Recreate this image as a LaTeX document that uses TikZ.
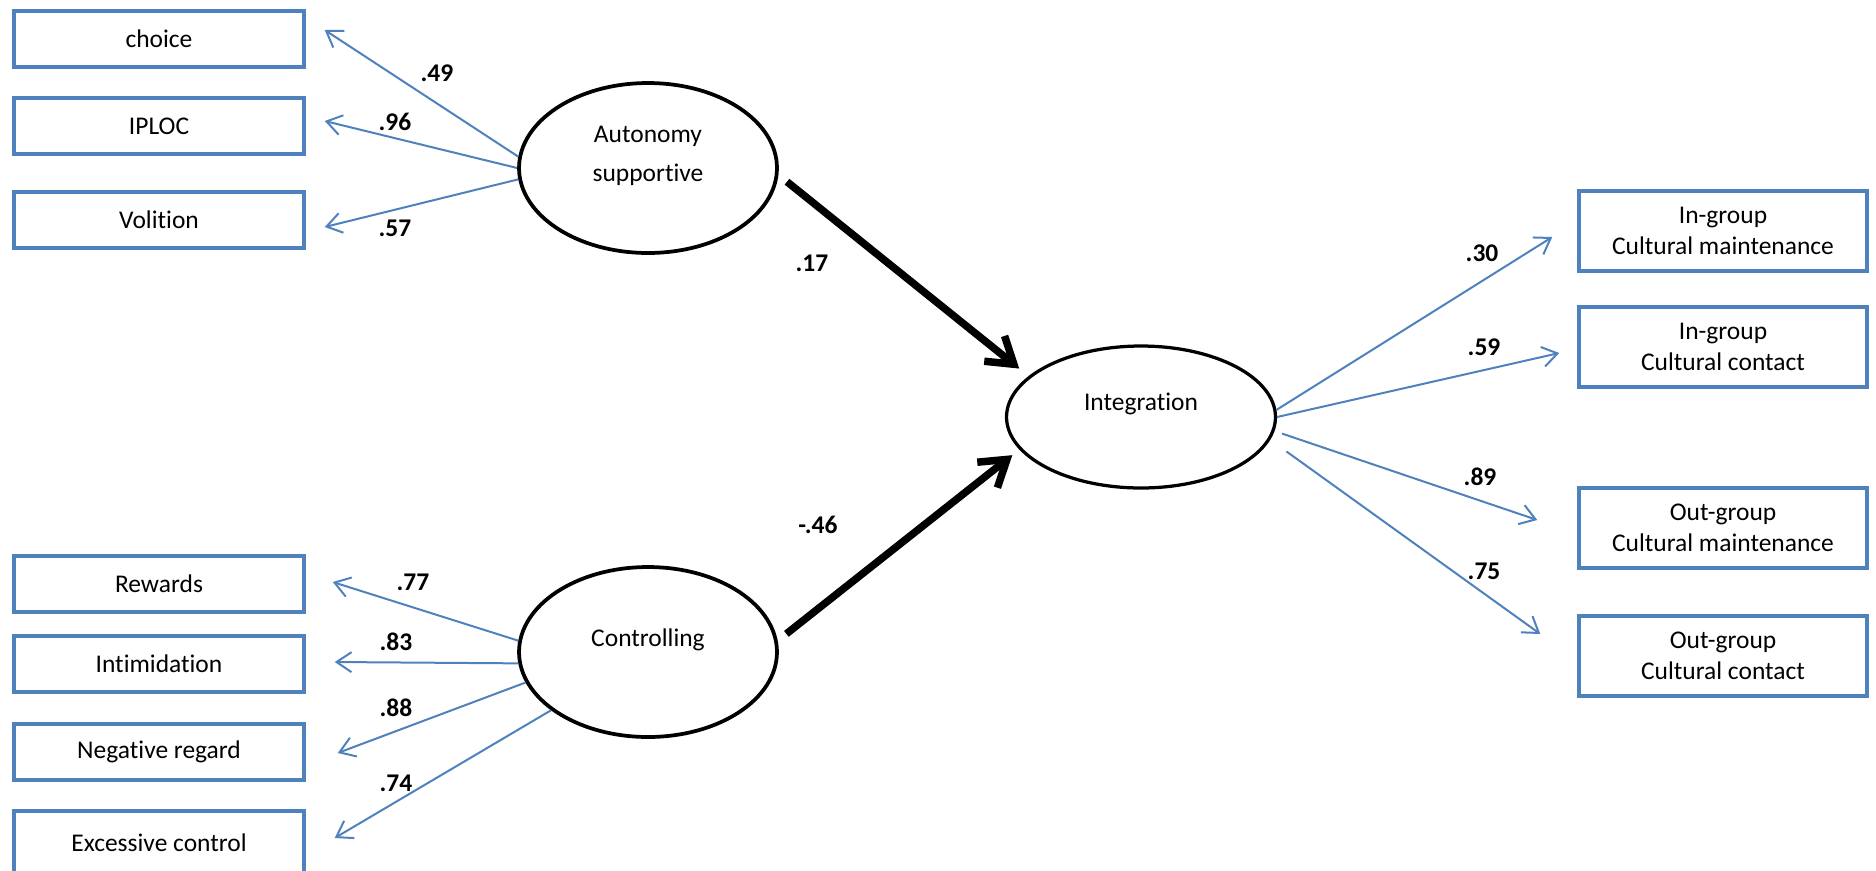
\documentclass[tikz,border=0pt]{standalone}
\usepackage{fontspec}
\setmainfont{Carlito}[Ligatures=NoCommon]
\usetikzlibrary{arrows.meta,calc,shapes.geometric}
\definecolor{obox}{RGB}{79,129,189}

\begin{document}
\begin{tikzpicture}[x=0.02cm,y=-0.02cm,
  every node/.style={font=\fontsize{14.5}{17.5}\selectfont},
  indic/.style={draw=obox, line width=0.07cm, minimum width=5.8cm,
    minimum height=1.12cm, inner sep=0pt, align=center},
  outc/.style={draw=obox, line width=0.07cm, minimum width=5.76cm,
    minimum height=1.6cm, inner sep=0pt, align=center},
  latent/.style={draw=black, ellipse, line width=0.075cm, inner sep=0pt,
    minimum width=5.16cm, minimum height=3.4cm},
  lattext/.style={align=center, inner sep=0pt,
    font=\fontsize{14.5}{22}\selectfont},
  coef/.style={font=\fontsize{14.5}{17.5}\selectfont\bfseries, inner sep=0pt},
  load/.style={draw=obox, line width=0.04cm,
    -{Straight Barb[length=0.3cm,width=0.4cm]}},
  struct/.style={draw=black, line width=0.15cm,
    -{Straight Barb[length=0.5cm,width=0.65cm]}},
]
\useasboundingbox (0,0) rectangle (1876,870);

% indicators of the two motivation factors
\node[indic] (choice) at (159,39)  {choice};
\node[indic] (iploc)  at (159,126) {IPLOC};
\node[indic] (volit)  at (159,220) {Volition};
\node[indic] (rew)    at (159,584) {Rewards};
\node[indic] (intim)  at (159,664) {Intimidation};
\node[indic] (negreg) at (159,752) {Negative regard};
\node[indic, minimum height=1.28cm] (excess) at (159,843) {Excessive control};

% latent variables
\node[latent] (aut) at (648,168) {};
\node[lattext] (autt) at (648,156) {Autonomy\\supportive};
\node[latent] (ctl) at (648,652) {};
\node[lattext] (ctlt) at (648,640) {Controlling};
\node[latent, minimum width=5.38cm, minimum height=2.84cm,
  line width=0.065cm] (integ) at (1141,417) {};
\node[lattext] (integt) at (1141,404) {Integration};

% outcome indicators
\node[outc] (ocm1) at (1723,231) {In-group\\Cultural maintenance};
\node[outc] (occ1) at (1723,347) {In-group\\Cultural contact};
\node[outc] (ocm2) at (1723,528) {Out-group\\Cultural maintenance};
\node[outc] (occ2) at (1723,656) {Out-group\\Cultural contact};

% loadings
\draw[load] (aut.175) -- ($(choice.east)+(19,-9)$);
\draw[load] (aut.180) -- ($(iploc.east)+(19,-5)$);
\draw[load] (aut.185) -- ($(volit.east)+(19,7)$);
\draw[load] (ctl.175) -- ($(rew.east)+(27,-2)$);
\draw[load] (ctl.185) -- ($(intim.east)+(29,-2)$);
\draw[load] (ctl.194) -- ($(negreg.east)+(32,1)$);
\draw[load] (ctl.211) -- ($(excess.east)+(29,-5)$);
\draw[load] (integ.3) -- ($(ocm1.west)+(-25,6)$);
\draw[load] (integ.0) -- ($(occ1.west)+(-18,6)$);
\draw[load, shorten <=0.16cm] (integ.-6) -- ($(ocm2.west)+(-40,-8)$);
\draw[load, shorten <=0.4cm] (integ.-10) -- ($(occ2.west)+(-37,-22)$);

% structural paths
\draw[struct, shorten <=0.22cm, shorten >=0.24cm] (aut.-3) -- (integ.160);
\draw[struct, shorten <=0.22cm, shorten >=0.18cm] (ctl.5) -- (integ.195);

% coefficients
\node[coef] (c49) at (437,73)  {.49};
\node[coef] (c96) at (395,122) {.96};
\node[coef] (c57) at (395,228) {.57};
\node[coef] (c77) at (413,582) {.77};
\node[coef] (c83) at (396,642) {.83};
\node[coef] (c88) at (396,708) {.88};
\node[coef] (c74) at (396,783) {.74};
\node[coef] (c17) at (812,263) {.17};
\node[coef] (c46) at (818,525) {-.46};
\node[coef] (c30) at (1482,253) {.30};
\node[coef] (c59) at (1484,347) {.59};
\node[coef] (c89) at (1480,477) {.89};
\node[coef] (c75) at (1484,571) {.75};
\end{tikzpicture}
\end{document}
